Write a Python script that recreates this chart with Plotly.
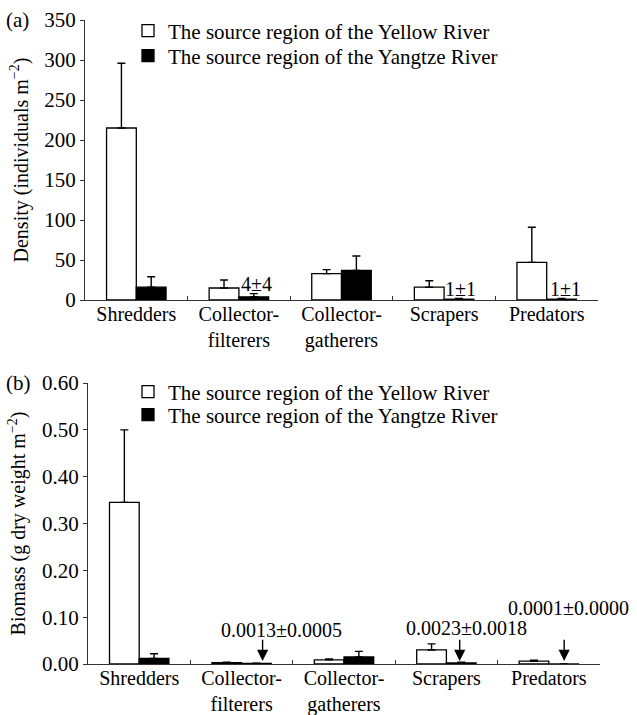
import plotly.graph_objects as go

# ---------------- data ----------------
categories = ["Shredders", "Collector-<br>filterers", "Collector-<br>gatherers", "Scrapers", "Predators"]
series_names = ["The source region of the Yellow River", "The source region of the Yangtze River"]

density_yellow = [215, 15, 33, 16, 47]
density_yellow_err = [81, 10, 5, 8, 44]
density_yangtze = [16, 4, 37, 1, 1]
density_yangtze_err = [13, 4, 18, 1, 1]

biomass_yellow = [0.345, 0.003, 0.009, 0.030, 0.006]
biomass_yellow_err = [0.155, 0.001, 0.002, 0.013, 0.002]
biomass_yangtze = [0.012, 0.0013, 0.015, 0.0023, 0.0001]
biomass_yangtze_err = [0.010, 0.0005, 0.012, 0.0018, 0.0000]

density_labels = [(1, "4±4"), (3, "1±1"), (4, "1±1")]
biomass_labels = [(1, "0.0013±0.0005"), (3, "0.0023±0.0018"), (4, "0.0001±0.0000")]

FONT = "Liberation Serif"
W, H = 637, 715

def px_x(p):
    return p / W

def px_y(p):
    return 1 - p / H

fig = go.Figure()

def add_pair(vals_w, err_w, vals_b, err_b, xa, ya, lg1, lg2):
    fig.add_trace(go.Bar(
        x=categories, y=vals_w, name=series_names[0], xaxis=xa, yaxis=ya,
        marker=dict(color="white", line=dict(color="black", width=1.3)),
        error_y=dict(type="data", symmetric=False, array=err_w, arrayminus=[0] * len(err_w),
                     color="black", thickness=1.4, width=4),
        legend=lg1, showlegend=True,
    ))
    fig.add_trace(go.Bar(
        x=categories, y=vals_b, name=series_names[1], xaxis=xa, yaxis=ya,
        marker=dict(color="black", line=dict(color="black", width=1.3)),
        error_y=dict(type="data", symmetric=False, array=err_b, arrayminus=[0] * len(err_b),
                     color="black", thickness=1.4, width=4),
        legend=lg2, showlegend=True,
    ))

add_pair(density_yellow, density_yellow_err, density_yangtze, density_yangtze_err, "x", "y", "legend", "legend2")
add_pair(biomass_yellow, biomass_yellow_err, biomass_yangtze, biomass_yangtze_err, "x2", "y2", "legend3", "legend4")

tickfont = dict(family=FONT, size=21, color="black")
xtickfont = dict(family=FONT, size=20, color="black")
axline = dict(showline=True, linecolor="#333", linewidth=1.3, showgrid=False, zeroline=False,
              automargin=False)

xcommon = dict(type="category", tickson="boundaries", ticks="inside", ticklen=4, tickcolor="#333",
               tickwidth=1.3, tickfont=xtickfont, range=[-0.5, 4.5], ticklabelstandoff=-4, **axline)
ycommon = dict(ticks="outside", ticklen=4, tickcolor="#333", tickwidth=1.3, tickfont=tickfont, **axline)

fig.update_layout(
    width=W, height=H, margin=dict(l=0, r=0, t=0, b=0, autoexpand=False),
    paper_bgcolor="white", plot_bgcolor="white",
    barmode="group", bargap=0.42, bargroupgap=0,
    font=dict(family=FONT, size=21, color="black"),
    xaxis=dict(domain=[px_x(85), px_x(598)], anchor="y", **xcommon),
    yaxis=dict(domain=[px_y(300), px_y(20)], anchor="x", range=[0, 350], dtick=50,
               title=dict(text="Density (individuals m<sup>−2</sup>)", font=dict(family=FONT, size=20),
                          standoff=10),
               **ycommon),
    xaxis2=dict(domain=[px_x(88), px_x(600)], anchor="y2", **xcommon),
    yaxis2=dict(domain=[px_y(664), px_y(383)], anchor="x2", range=[0, 0.6], dtick=0.1,
                tickformat=".2f",
                title=dict(text="Biomass (g dry weight m<sup>−2</sup>)", font=dict(family=FONT, size=20),
                           standoff=10),
                **ycommon),
)

leg_common = dict(font=dict(family=FONT, size=21, color="black"), bgcolor="rgba(0,0,0,0)",
                  xanchor="left", yanchor="middle", borderwidth=0)
fig.update_layout(
    legend=dict(x=px_x(128), y=px_y(31), **leg_common),
    legend2=dict(x=px_x(128), y=px_y(56), **leg_common),
    legend3=dict(x=px_x(128), y=px_y(392), **leg_common),
    legend4=dict(x=px_x(128), y=px_y(415), **leg_common),
)

ann = []
ann.append(dict(text="(a)", x=px_x(4), y=px_y(20), xref="paper", yref="paper", xanchor="left",
                yanchor="middle", showarrow=False, font=dict(family=FONT, size=21)))
ann.append(dict(text="(b)", x=px_x(4), y=px_y(383), xref="paper", yref="paper", xanchor="left",
                yanchor="middle", showarrow=False, font=dict(family=FONT, size=21)))

dens_offsets = [0.17, 0.155, 0.18]
dens_y = [20, 14, 14]
for (i, t), dx, yy in zip(density_labels, dens_offsets, dens_y):
    ann.append(dict(text=t, x=i + dx, y=yy, xref="x", yref="y", showarrow=False,
                    xanchor="center", yanchor="middle", font=dict(family=FONT, size=20)))

bio_text_dx = [0.39, 0.20, 0.19]
bio_text_y = [0.072, 0.077, 0.119]
bio_arrow_dx = [0.205, 0.13, 0.15]
for (i, t), tdx, ty, adx in zip(biomass_labels, bio_text_dx, bio_text_y, bio_arrow_dx):
    ann.append(dict(text=t, x=i + tdx, y=ty, xref="x2", yref="y2", showarrow=False,
                    xanchor="center", yanchor="middle", font=dict(family=FONT, size=20)))
    ann.append(dict(text="", x=i + adx, y=0.0064, xref="x2", yref="y2", showarrow=True,
                    ax=i + adx, ay=0.055, axref="x2", ayref="y2",
                    arrowhead=2, arrowsize=1.6, arrowwidth=1.4, arrowcolor="black", standoff=0))

fig.update_layout(annotations=ann)

fig.write_html("out.html")
